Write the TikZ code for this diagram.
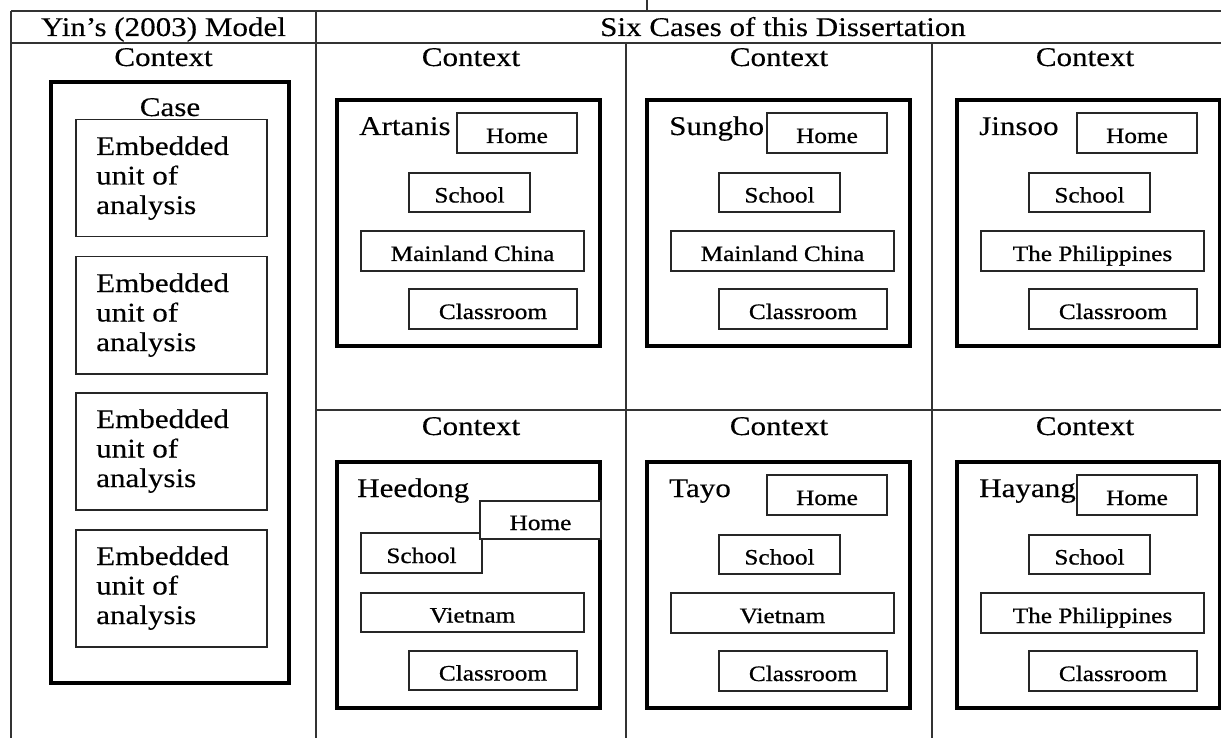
\documentclass[tikz,border=0pt]{standalone}
\usepackage{fontspec}
\setmainfont[FakeStretch=1.15,FakeBold=0.3]{Liberation Serif}
\newfontfamily\smallfam[FakeStretch=1.15,FakeBold=0.7]{Liberation Serif}
\begin{document}
\begin{tikzpicture}[x=1pt,y=-1pt,
  tbl/.style={line width=1.6pt, draw=black!80},
  thickbox/.style={draw=black, line width=4.5pt, inner sep=0pt, rectangle},
  ebox/.style={draw=black!85, line width=1.5pt, inner sep=0pt, rectangle},
  bigtext/.style={font=\fontsize{27}{30}\selectfont, inner sep=0pt},
  sbox/.style={draw=black!85, line width=1.5pt, fill=white, rectangle, inner sep=0pt,
     minimum height=40pt, font=\smallfam\fontsize{22}{24}\selectfont, text height=20pt, text depth=0pt}]
\useasboundingbox (0,0) rectangle (1221,738);
\fill[white] (0,0) rectangle (1221,738);
% table grid
\draw[tbl] (11,11) -- (1221,11);
\draw[tbl] (11,43) -- (1221,43);
\draw[tbl] (11,11) -- (11,738);
\draw[tbl] (316,11) -- (316,738);
\draw[tbl] (626,43) -- (626,738);
\draw[tbl] (932,43) -- (932,738);
\draw[tbl] (316,410) -- (1221,410);
\draw[tbl] (647,0) -- (647,11);
% headers
\node[bigtext, anchor=base] (hyin) at (163.5,36) {Yin’s (2003) Model};
\node[bigtext, anchor=base] (hsix) at (783,36) {Six Cases of this Dissertation};
% left column: Yin's model
\node[bigtext, anchor=base] (ctx0) at (163.5,66) {Context};
\node[thickbox, minimum width=238pt, minimum height=601pt] (case) at (170,382.5) {};
\node[bigtext, anchor=base] (caselbl) at (170,116) {Case};
\foreach \t [count=\i] in {119,256,392,529} {
  \node[ebox, minimum width=191pt, minimum height=117pt, anchor=north west] (e\i) at (75,\t) {};
  \node[bigtext, anchor=base west] (e\i a) at (96,\t+36) {Embedded};
  \node[bigtext, anchor=base west] (e\i b) at (96,\t+65.5) {unit of};
  \node[bigtext, anchor=base west] (e\i c) at (96,\t+95) {analysis};
}
% context labels of the six cases
\foreach \cx/\cy/\k in {471/66/1, 779/66/2, 1085/66/3, 471/435/4, 779/435/5, 1085/435/6} {
  \node[bigtext, anchor=base] (ctx\k) at (\cx,\cy) {Context};
}
% standard cases
\foreach \nm/\pl/\dx/\dy/\k in {Artanis/Mainland China/0/0/1, Sungho/Mainland China/310/0/2,
    Jinsoo/The Philippines/620/0/3, Tayo/Vietnam/310/362/5, Hayang/The Philippines/620/362/6} {
  \node[thickbox, minimum width=263pt, minimum height=246pt] (cb\k) at (468.5+\dx,223+\dy) {};
  \node[bigtext, anchor=base west] (nm\k) at (359+\dx,135+\dy) {\nm};
  \node[sbox, minimum width=120pt] (home\k) at (517+\dx,133+\dy) {Home};
  \node[sbox, minimum width=121pt, minimum height=39pt] (school\k) at (469.5+\dx,192.5+\dy) {School};
  \node[sbox, minimum width=223pt] (place\k) at (472.5+\dx,251+\dy) {\pl};
  \node[sbox, minimum width=168pt] (class\k) at (493+\dx,309+\dy) {Classroom};
}
% Heedong case
\node[thickbox, minimum width=263pt, minimum height=246pt] (cb4) at (468.5,585) {};
\node[bigtext, anchor=base west] (nm4) at (357,497) {Heedong};
\node[sbox, minimum width=121pt] (school4) at (421.5,553) {School};
\node[sbox, minimum width=121pt, minimum height=38pt] (home4) at (540.5,520) {Home};
\node[sbox, minimum width=223pt, minimum height=39pt] (place4) at (472.5,612.5) {Vietnam};
\node[sbox, minimum width=168pt, minimum height=39pt] (class4) at (493,670.5) {Classroom};
\end{tikzpicture}
\end{document}
